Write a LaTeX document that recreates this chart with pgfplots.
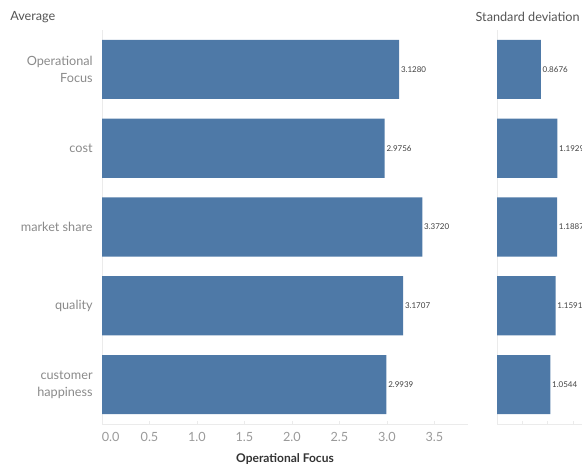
\documentclass[border=0pt]{standalone}
\usepackage{fontspec}
\setmainfont{Lato}
\usepackage{pgfplots}
\pgfplotsset{compat=1.18}
\definecolor{barblue}{HTML}{4E79A7}
\definecolor{labelgray}{HTML}{8A8A8A}
\definecolor{tickgray}{HTML}{9A9A9A}
\definecolor{titlegray}{HTML}{555555}
\definecolor{linegray}{HTML}{EBEBEB}
\begin{document}
\begin{tikzpicture}
\path[use as bounding box] (0,0) rectangle (436.5pt,-349.5pt);
\clip (0,0) rectangle (436.5pt,-349.5pt);
\node[anchor=west, inner sep=0, font=\fontsize{9.5}{11}\selectfont, text=titlegray] at (7.5pt,-12.75pt) {Average};
\node[anchor=west, inner sep=0, font=\fontsize{9.5}{11}\selectfont, text=titlegray] at (356.5pt,-12.75pt) {Standard deviation};
\pgfplotsset{
  panel/.style={
    scale only axis, xbar, bar width=0.75,
    ymin=-0.5, ymax=4.5, y dir=reverse,
    axis x line*=bottom, axis y line*=left,
    axis line style={draw=linegray, line width=0.6pt},
    x axis line style={-}, y axis line style={-},
    major tick length=2.5pt,
    xtick style={draw=linegray},
    ytick style={draw=none},
    /pgf/number format/assume math mode=true,
    nodes near coords={\pgfmathprintnumber[fixed,fixed zerofill,precision=4,assume math mode=true]{\pgfplotspointmeta}},
    every node near coord/.append style={font=\fontsize{6}{7}\selectfont, text=black!75, anchor=west, inner sep=1.2pt},
  }
}
\begin{axis}[panel,
  at={(76.5pt,-22.5pt)}, anchor=north west,
  width=274.5pt, height=295.5pt,
  xmin=0, xmax=3.853,
  xtick={0,0.5,1,1.5,2,2.5,3,3.5},
  xticklabels={\hspace{13pt}0.0,0.5,1.0,1.5,2.0,2.5,3.0,3.5},
  xticklabel style={font=\fontsize{9.5}{11}\selectfont, text=tickgray, yshift=-2.5pt},
  ytick={0,1,2,3,4},
  yticklabels={{Operational\\Focus},cost,market share,quality,{customer\\happiness}},
  yticklabel style={align=right, font=\fontsize{9.5}{12.5}\selectfont, text=labelgray, xshift=-1pt},
  xlabel={\textbf{Operational Focus}},
  xlabel style={font=\fontsize{9}{10}\selectfont, text=black!80, yshift=-2.5pt},
]
\addplot[fill=barblue, draw=none] coordinates {(3.1280,0) (2.9756,1) (3.3720,2) (3.1707,3) (2.9939,4)};
\end{axis}
\begin{axis}[panel,
  at={(372.75pt,-22.5pt)}, anchor=north west,
  width=66.3pt, height=295.5pt,
  xmin=0, xmax=1.75,
  xtick={0,0.5,1,1.5}, xticklabels={},
  ytick={0,1,2,3,4}, yticklabels={},
]
\addplot[fill=barblue, draw=none] coordinates {(0.8676,0) (1.1929,1) (1.1887,2) (1.1591,3) (1.0544,4)};
\end{axis}
\end{tikzpicture}
\end{document}
